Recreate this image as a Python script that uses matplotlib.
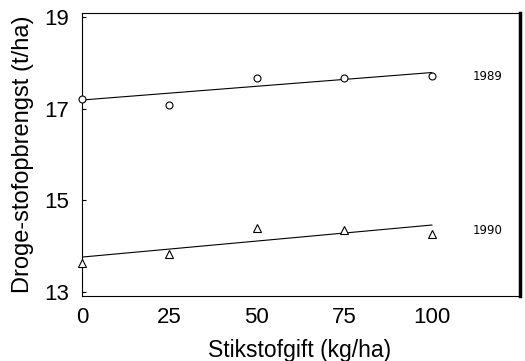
import matplotlib
matplotlib.use("Agg")
import matplotlib.pyplot as plt
import numpy as np

plt.rcParams['font.family'] = ['Liberation Sans', 'DejaVu Sans']

nitrogen = [0, 25, 50, 75, 100]
yield_1989 = [17.21, 17.08, 17.67, 17.68, 17.71]
yield_1990 = [13.63, 13.82, 14.40, 14.35, 14.26]
fit_x = [0, 100]
fit_1989 = [17.19, 17.79]
fit_1990 = [13.76, 14.46]
x_ticks = [0, 25, 50, 75, 100]
y_ticks = [13, 15, 17, 19]

fig = plt.figure(figsize=(5.25, 3.61), dpi=100)
ax = fig.add_axes([82/525, 1-296/361, (520-82)/525, (296-13)/361])

ax.plot(nitrogen, yield_1989, linestyle='none', marker='o', mfc='white', mec='black', ms=5, mew=0.8, clip_on=False, zorder=3)
ax.plot(nitrogen, yield_1990, linestyle='none', marker='^', mfc='white', mec='black', ms=6, mew=0.8, clip_on=False, zorder=3)
ax.plot(fit_x, fit_1989, color='black', lw=0.8)
ax.plot(fit_x, fit_1990, color='black', lw=0.8)
ax.text(116, 17.71, '1989', fontsize=8.5, family='DejaVu Sans', ha='center', va='center')
ax.text(116, 14.35, '1990', fontsize=8.5, family='DejaVu Sans', ha='center', va='center')

ax.set_xlim(0, 125.2)
ax.set_ylim(12.91, 19.09)
ax.set_xticks(x_ticks)
ax.set_xticklabels(['0', '25', '50', '75', '100'])
ax.set_yticks(y_ticks)
ax.tick_params(axis='both', labelsize=16, direction='in', length=3, width=0.8)
ax.tick_params(axis='y', pad=9)
ax.tick_params(axis='x', length=0, pad=8)
ax.set_xlabel('Stikstofgift (kg/ha)', fontsize=16.5)
ax.xaxis.label.set_va('center')
ax.xaxis.set_label_coords((300-82)/438, (296-350)/283)
ax.set_ylabel('Droge-stofopbrengst (t/ha)', fontsize=17, labelpad=8)
for s in ['left', 'bottom', 'top']:
    ax.spines[s].set_linewidth(0.8)
ax.spines['right'].set_linewidth(2.5)

fig.savefig('out.png', dpi=100)
